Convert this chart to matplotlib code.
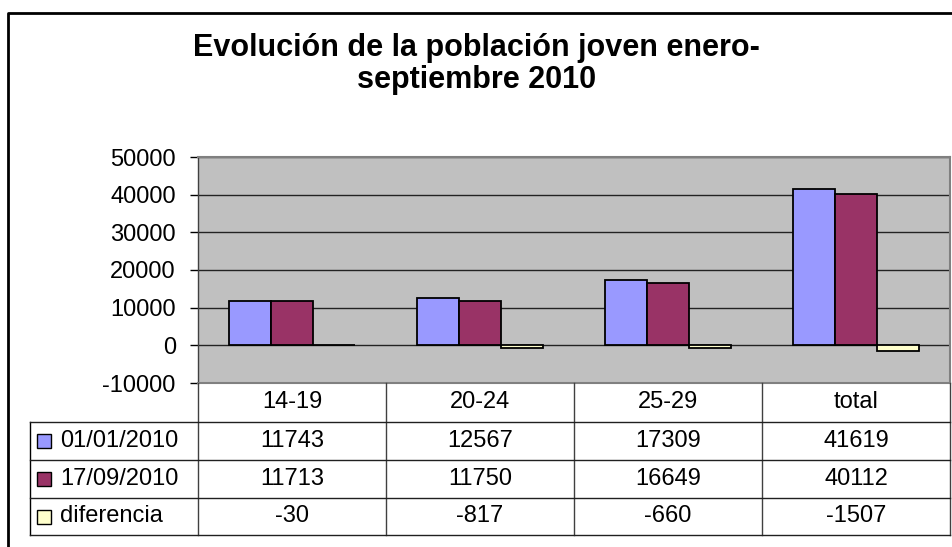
import matplotlib
matplotlib.use("Agg")
import matplotlib.pyplot as plt
from matplotlib.lines import Line2D
from matplotlib.patches import Rectangle
import numpy as np

plt.rcParams['font.family'] = ['Liberation Sans', 'DejaVu Sans']

categories = ['14-19', '20-24', '25-29', 'total']
series_names = ['01/01/2010', '17/09/2010', 'diferencia']
enero = [11743, 12567, 17309, 41619]
septiembre = [11713, 11750, 16649, 40112]
diferencia = [-30, -817, -660, -1507]
colors = ['#9999FF', '#993366', '#FFFFCC']
yticks = [-10000, 0, 10000, 20000, 30000, 40000, 50000]

W, H = 953, 547
fig = plt.figure(figsize=(W / 100, H / 100), dpi=100)


def fx(px):
    return px / W


def fy(py):
    # pixel measured from the top
    return 1 - py / H


# plot area in pixels
left, right, top, bottom = 198, 950, 157, 383
ax = fig.add_axes([fx(left), fy(bottom), fx(right - left), fy(top) - fy(bottom)])
ax.set_facecolor('#C0C0C0')

x = np.arange(len(categories))
w = 0.2234
series = [enero, septiembre, diferencia]
for k, vals in enumerate(series):
    ax.bar(x + (k - 1) * w, vals, width=w, color=colors[k],
           edgecolor='black', linewidth=1.3, zorder=3)

ax.set_xlim(-0.5, len(categories) - 0.5)
ax.set_ylim(-10000, 50000)
ax.set_yticks(yticks)
ax.set_yticklabels([str(v) for v in yticks], fontsize=17)
ax.tick_params(axis='y', length=6, width=1, pad=10, direction='out')
ax.set_xticks([])
ax.yaxis.grid(True, color='#222222', linewidth=1)
ax.set_axisbelow(True)
for s in ['top', 'right', 'bottom']:
    ax.spines[s].set_color('#808080')
    ax.spines[s].set_linewidth(1.5)
ax.spines['left'].set_color('#404040')
ax.spines['left'].set_linewidth(1)

fig.text(0.5, fy(48), 'Evolución de la población joven enero-', ha='center', va='center',
         fontsize=22, fontweight='bold')
fig.text(0.5, fy(80), 'septiembre 2010', ha='center', va='center',
         fontsize=22, fontweight='bold')

# data table below the plot
col_edges = [left + i * (right - left) / len(categories) for i in range(len(categories) + 1)]
row_edges = [bottom, 422, 460, 498, 535]
tab_left = 30


def hline(y, x0, x1, c='black', lw=1):
    fig.add_artist(Line2D([fx(x0), fx(x1)], [fy(y), fy(y)], color=c, linewidth=lw))


def vline(xp, y0, y1, c='black', lw=1):
    fig.add_artist(Line2D([fx(xp), fx(xp)], [fy(y0), fy(y1)], color=c, linewidth=lw))


for xe in col_edges:
    vline(xe, bottom, row_edges[-1], c='#404040')
vline(tab_left, row_edges[1], row_edges[-1])
for ye in row_edges[1:]:
    hline(ye, tab_left, right, c='#202020')

for i, cat in enumerate(categories):
    cx = (col_edges[i] + col_edges[i + 1]) / 2
    fig.text(fx(cx), fy((row_edges[0] + row_edges[1]) / 2), cat,
             ha='center', va='center', fontsize=17)

for r, (name, vals) in enumerate(zip(series_names, series)):
    cy = (row_edges[r + 1] + row_edges[r + 2]) / 2
    fig.add_artist(Rectangle((fx(37), fy(cy + 7)), fx(14), fy(0) - fy(14),
                             facecolor=colors[r], edgecolor='black', linewidth=1))
    fig.text(fx(60), fy(cy), name, ha='left', va='center', fontsize=17)
    for i, v in enumerate(vals):
        cx = (col_edges[i] + col_edges[i + 1]) / 2
        fig.text(fx(cx), fy(cy), str(v), ha='center', va='center', fontsize=17)

# chart border
fig.add_artist(Line2D([fx(8), fx(8), fx(W)], [0, fy(13), fy(13)], color='black', linewidth=2))

fig.savefig('out.png', dpi=100)
